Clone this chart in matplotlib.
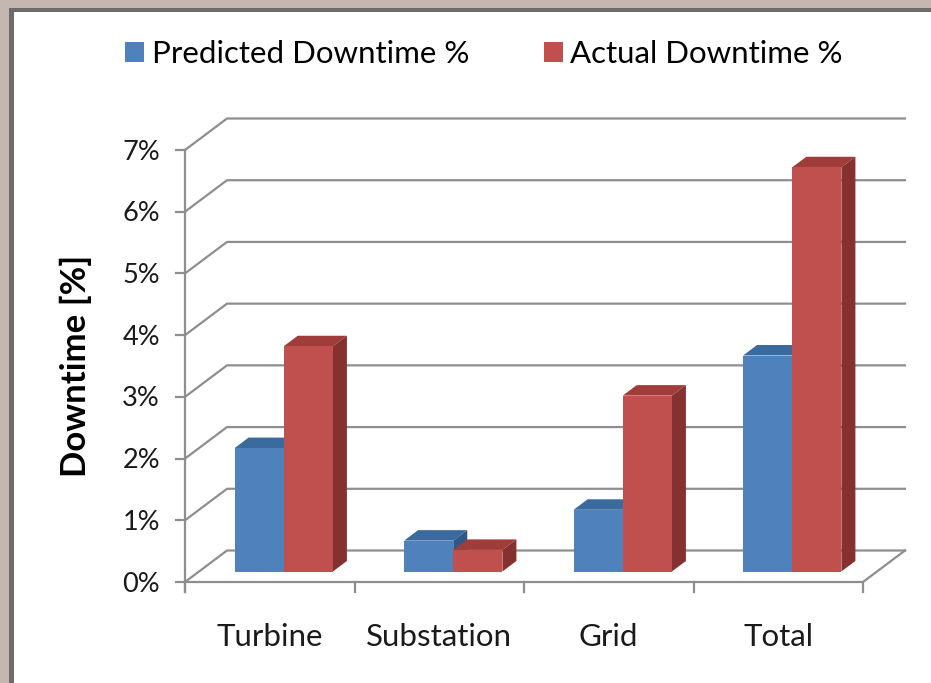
import numpy as np
import matplotlib.pyplot as plt
from matplotlib.patches import Polygon, Patch, Rectangle
from matplotlib.transforms import IdentityTransform, offset_copy

# data
categories = ['Turbine', 'Substation', 'Grid', 'Total']
predicted = [2.0, 0.5, 1.0, 3.5]
actual = [3.65, 0.35, 2.85, 6.55]
series_names = ['Predicted Downtime %', 'Actual Downtime %']
yticks = [0, 1, 2, 3, 4, 5, 6, 7]
ytick_labels = ['0%', '1%', '2%', '3%', '4%', '5%', '6%', '7%']

plt.rcParams['font.family'] = ['Lato', 'DejaVu Sans']

W, H = 931, 683
fig = plt.figure(figsize=(W / 100, H / 100), dpi=100)

# picture frame around the chart
fig.patches.append(Rectangle((0, 0), 1, 1, transform=fig.transFigure,
                             facecolor='#c4b6b1', edgecolor='none', zorder=-10))
fig.patches.append(Rectangle((9 / W, -0.1), 1.2, 1.1 - 8 / H, transform=fig.transFigure,
                             facecolor='#6e6a69', edgecolor='none', zorder=-9))
fig.patches.append(Rectangle((14 / W, -0.1), 1.2, 1.1 - 12 / H, transform=fig.transFigure,
                             facecolor='white', edgecolor='none', zorder=-8))

# front plane of the plot
ax = fig.add_axes([185 / W, (H - 582) / H, (863 - 185) / W, (582 - 150) / H])
ax.set_xlim(0, len(categories))
ax.set_ylim(0, 7)
ax.axis('off')

# pseudo 3D: depth unit in pixels, wall sits 3 units back
DX, DY = 14.0, 10.5
DEPTH = 3
grid_c = '#8e8e8e'


def proj(x, y, d):
    px, py = ax.transData.transform((x, y))
    return (px + d * DX, py + d * DY)


def line(pts, **kw):
    pts = np.array(pts)
    ax.add_line(plt.Line2D(pts[:, 0], pts[:, 1], transform=IdentityTransform(),
                           color=grid_c, lw=1.6, clip_on=False, **kw))


def poly(pts, color):
    ax.add_patch(Polygon(pts, closed=True, transform=IdentityTransform(),
                         facecolor=color, edgecolor='none', clip_on=False, zorder=3))


n = len(categories)
# wall gridlines and side diagonals
for yt in yticks:
    line([proj(0, yt, 0), proj(0, yt, DEPTH), proj(n, yt, DEPTH)])
# floor
line([proj(0, 0, 0), proj(n, 0, 0), proj(n, 0, DEPTH)])
# front value axis with ticks
x0, y0 = proj(0, 0, 0)
x7, y7 = proj(0, 7, 0)
line([(x0, y0 - 10), (x7, y7)])
for yt in yticks:
    px, py = proj(0, yt, 0)
    line([(px - 9, py), (px, py)])
for i in range(n + 1):
    px, py = proj(i, 0, 0)
    line([(px, py), (px, py - 10)])

# bars
bw = 0.29
colors = [('#4f81bd', '#3b6a9f', '#2f5787'),
          ('#c0504d', '#a03c39', '#843130')]
for i in range(n):
    for s, vals in enumerate([predicted, actual]):
        h = vals[i]
        xa = i + 0.5 - bw + s * bw
        xb = xa + bw
        front, top, side = colors[s]
        poly([proj(xa, h, 1), proj(xb, h, 1), proj(xb, h, 2), proj(xa, h, 2)], top)
        poly([proj(xb, 0, 1), proj(xb, 0, 2), proj(xb, h, 2), proj(xb, h, 1)], side)
        poly([proj(xa, 0, 1), proj(xb, 0, 1), proj(xb, h, 1), proj(xa, h, 1)], front)

# tick labels
ylab_tr = offset_copy(ax.transData, fig=fig, x=-25, y=-2, units='dots')
for yt, lab in zip(yticks, ytick_labels):
    ax.text(0, yt, lab, transform=ylab_tr, ha='right', va='center', fontsize=19.5,
            color='#1a1a1a')
xlab_tr = offset_copy(ax.transData, fig=fig, x=0, y=-55, units='dots')
for i, cat in enumerate(categories):
    ax.text(i + 0.5, 0, cat, transform=xlab_tr, ha='center', va='center', fontsize=22.5,
            color='#1a1a1a')

fig.text(76 / W, 1 - 366 / H, 'Downtime [%]', rotation=90, ha='center', va='center',
         fontsize=25, fontweight='bold', color='black')

handles = [Patch(facecolor=colors[0][0]), Patch(facecolor=colors[1][0])]
fig.legend(handles, series_names, loc='center', bbox_to_anchor=(484 / W, 1 - 54 / H),
           ncol=2, frameon=False, fontsize=22.5, handlelength=0.6, handleheight=0.6,
           handletextpad=0.25, columnspacing=2.4)

fig.savefig('out.png', dpi=100)
